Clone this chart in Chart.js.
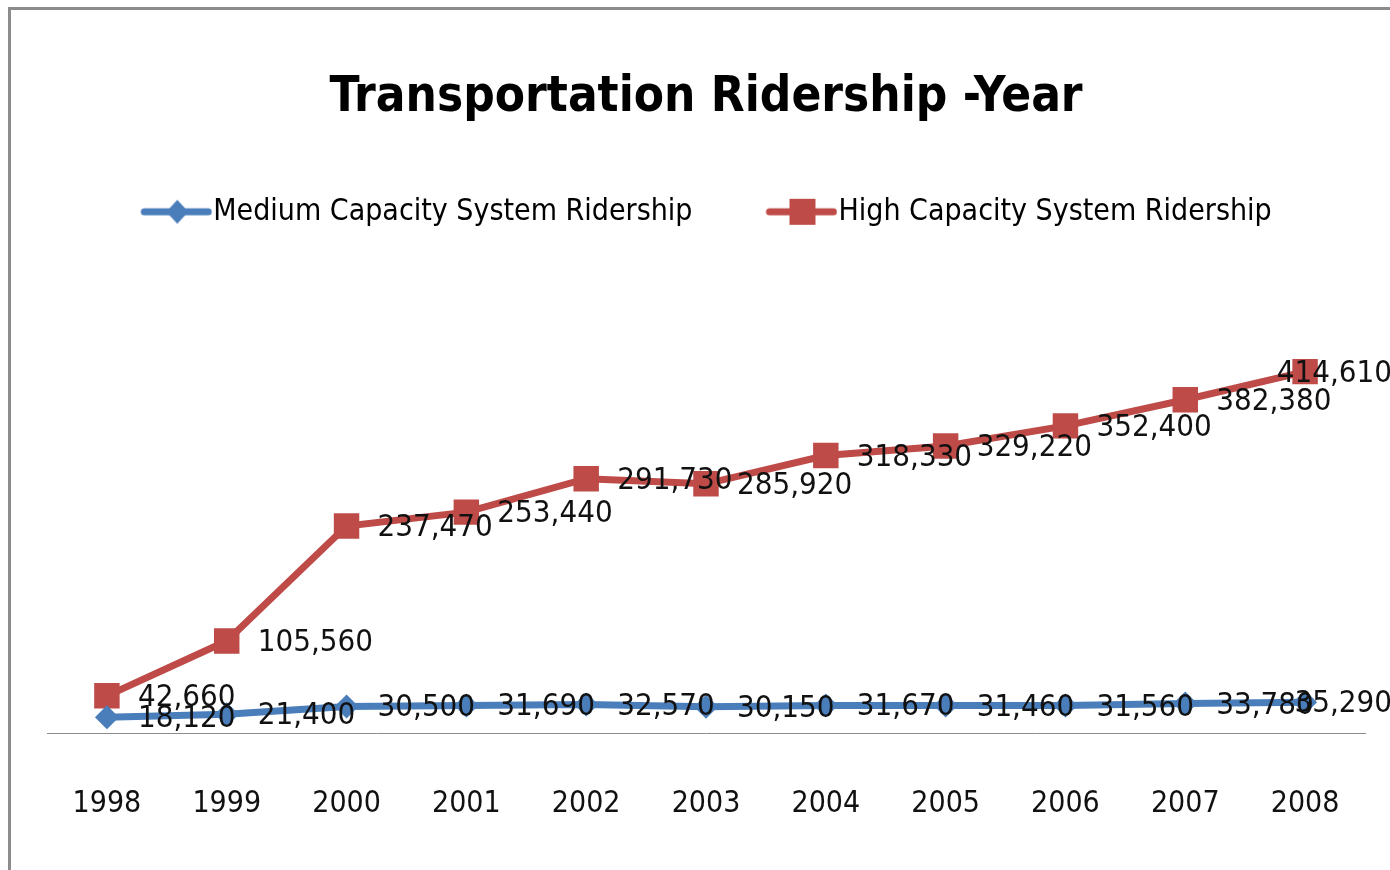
<!DOCTYPE html>
<html>
<head>
<meta charset="utf-8">
<script src="https://cdn.jsdelivr.net/npm/chart.js@4.4.0/dist/chart.umd.min.js"></script>
<style>
  html, body { margin: 0; padding: 0; background: #fff; overflow: hidden; }
  #frame { position: absolute; left: 8px; top: 7px; width: 1500px; height: 1000px; border: 3px solid #8c8c8c; }
  #wrap { position: absolute; left: 0; top: 0; width: 1390px; height: 870px; }
</style>
</head>
<body>
<div id="frame"></div>
<div id="wrap"><canvas id="ridership-chart" width="1390" height="870"></canvas></div>
<script>
// ridership by year
const years = ['1998', '1999', '2000', '2001', '2002', '2003', '2004', '2005', '2006', '2007', '2008'];
const mediumRidership = [18120, 21400, 30500, 31690, 32570, 30150, 31670, 31460, 31560, 33780, 35290];
const highRidership = [42660, 105560, 237470, 253440, 291730, 285920, 318330, 329220, 352400, 382380, 414610];

const FONT = "'Liberation Sans Narrow', 'DejaVu Sans Condensed', 'Roboto Condensed', 'Liberation Sans', sans-serif";
const BLUE = '#4a7ebb';
const RED = '#be4b48';

// legend swatch: thick line with the marker in the middle
function legendSwatch(color, shape) {
    let c = document.createElement('canvas');
    c.width = 86;
    c.height = 30;
    let ctx = c.getContext('2d');
    ctx.strokeStyle = color;
    ctx.lineWidth = 7;
    ctx.lineCap = 'round';
    ctx.beginPath();
    ctx.moveTo(18, 15);
    ctx.lineTo(82, 15);
    ctx.stroke();
    ctx.fillStyle = color;
    ctx.beginPath();
    if (shape === 'diamond') {
        ctx.moveTo(51, 3); ctx.lineTo(62, 15); ctx.lineTo(51, 27); ctx.lineTo(40, 15);
    } else {
        ctx.rect(38, 2, 26, 26);
    }
    ctx.fill();
    return c;
}

const pointLabels = {
    id: 'pointLabels',
    afterDatasetsDraw(chart) {
        let ctx = chart.ctx;
        ctx.save();
        ctx.font = '31px ' + FONT;
        ctx.fillStyle = '#111';
        ctx.textBaseline = 'middle';
        chart.data.datasets.forEach(function (ds, i) {
            chart.getDatasetMeta(i).data.forEach(function (pt, j) {
                let txt = ds.data[j].toLocaleString('en-US');
                let w = ctx.measureText(txt).width;
                let x = Math.min(pt.x + 31, chart.width - w + 2);
                ctx.fillText(txt, x, pt.y + 2);
            });
        });
        ctx.restore();
    }
};

const legendGap = {
    id: 'legendGap',
    beforeInit(chart) {
        let fit = chart.legend.fit;
        chart.legend.fit = function () {
            fit.bind(chart.legend)();
            this.height += 104;
        };
    }
};

new Chart(document.getElementById('ridership-chart').getContext('2d'), {
    type: 'line',
    data: {
        labels: years,
        datasets: [{
            label: 'Medium Capacity System Ridership',
            data: mediumRidership,
            borderColor: BLUE,
            backgroundColor: BLUE,
            borderWidth: 7,
            pointStyle: 'rectRot',
            pointRadius: 12,
            pointBorderWidth: 0,
            tension: 0
        }, {
            label: 'High Capacity System Ridership',
            data: highRidership,
            borderColor: RED,
            backgroundColor: RED,
            borderWidth: 7,
            pointStyle: 'rect',
            pointRadius: 18,
            pointBorderWidth: 0,
            tension: 0
        }]
    },
    options: {
        responsive: false,
        animation: false,
        layout: { padding: { left: 47, right: 25, top: 0, bottom: 3 } },
        plugins: {
            title: {
                display: true,
                text: 'Transportation Ridership -Year',
                color: '#000',
                font: { family: FONT, size: 49, weight: 'bold' },
                padding: { top: 69, bottom: -4 }
            },
            legend: {
                position: 'top',
                labels: {
                    usePointStyle: true,
                    pointStyleWidth: 58,
                    padding: 73,
                    color: '#111',
                    font: { family: FONT, size: 30 },
                    generateLabels(chart) {
                        return chart.data.datasets.map(function (ds, i) {
                            return {
                                text: ds.label,
                                pointStyle: legendSwatch(ds.borderColor, i === 0 ? 'diamond' : 'square'),
                                fillStyle: ds.borderColor,
                                strokeStyle: ds.borderColor,
                                lineWidth: 0,
                                datasetIndex: i
                            };
                        });
                    }
                }
            },
            tooltip: { enabled: false }
        },
        scales: {
            x: {
                offset: true,
                grid: { display: false },
                border: { display: true, color: '#8c8c8c', width: 1 },
                ticks: { color: '#111', font: { family: FONT, size: 30 }, padding: 45 }
            },
            y: {
                display: false,
                min: 0,
                max: 450000
            }
        }
    },
    plugins: [pointLabels, legendGap]
});
</script>
</body>
</html>
